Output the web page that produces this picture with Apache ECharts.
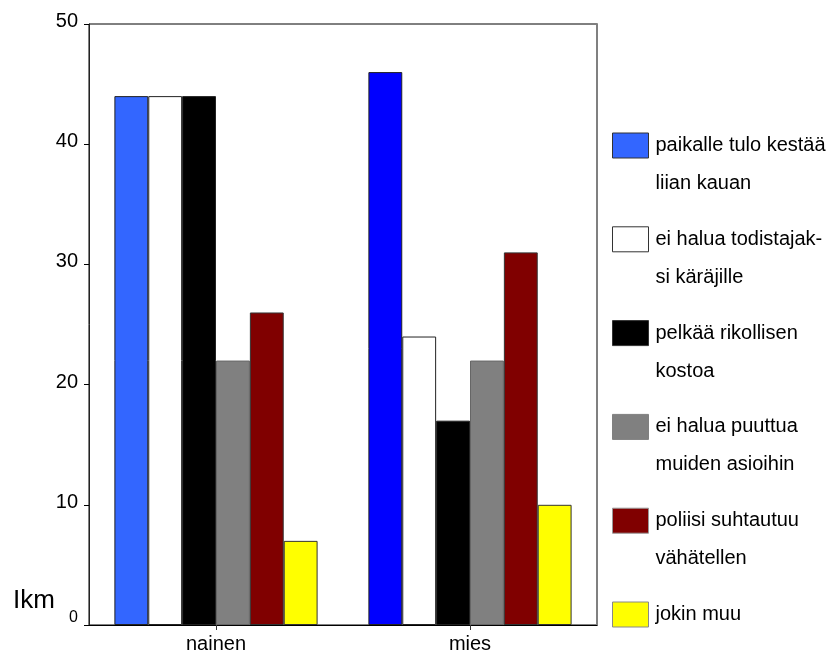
<!DOCTYPE html>
<html>
<head>
<meta charset="utf-8">
<script src="https://cdn.jsdelivr.net/npm/echarts@6/dist/echarts.min.js"></script>
<style>
html,body{margin:0;padding:0;background:#fff;}
#chart{width:829px;height:654px;}
</style>
</head>
<body>
<div id="chart"></div>
<script>
const categories = ['nainen', 'mies'];
const seriesNames = [
  'paikalle tulo kestää\nliian kauan',
  'ei halua todistajak-\nsi käräjille',
  'pelkää rikollisen\nkostoa',
  'ei halua puuttua\nmuiden asioihin',
  'poliisi suhtautuu\nvähätellen',
  'jokin muu'
];
const valuesPaikalle = [44, 46];
const valuesTodistaja = [44, 24];
const valuesKosto = [44, 17];
const valuesPuuttua = [22, 22];
const valuesPoliisi = [26, 31];
const valuesMuu = [7, 10];
const yTicks = [0, 10, 20, 30, 40, 50];
const axisTitle = 'Ikm';

const seriesValues = [valuesPaikalle, valuesTodistaja, valuesKosto, valuesPuuttua, valuesPoliisi, valuesMuu];
const colors = ['#3366FF', '#FFFFFF', '#000000', '#808080', '#800000', '#FFFF00'];
const dataColors = [['#3366FF', '#0000FF'], null, null, null, null, null];
const barBorders = ['#222', '#222', '#222', '#666', '#333', '#333'];
const legendBorders = ['#333', '#333', '#333', '#808080', '#999', '#888'];

const FONT = '"Liberation Sans", Arial, Helvetica, sans-serif';

const series = seriesValues.map((vals, i) => ({
  name: seriesNames[i],
  type: 'bar',
  barGap: '0%',
  barCategoryGap: '20%',
  itemStyle: { color: colors[i], borderColor: barBorders[i], borderWidth: 1 },
  data: vals.map((v, j) => dataColors[i] ? { value: v, itemStyle: { color: dataColors[i][j] } } : v)
}));

const legends = seriesNames.map((n, i) => {
  const twoLines = n.indexOf('\n') >= 0;
  const iconCenter = 145.5 + i * 93.8;
  const half = twoLines ? 57 : 19;
  return {
    show: true,
    left: 612,
    top: iconCenter - half,
    padding: 0,
    orient: 'vertical',
    icon: 'rect',
    itemWidth: 36,
    itemHeight: 25,
    selectedMode: false,
    data: [{ name: n, itemStyle: { borderColor: legendBorders[i], borderWidth: 1 } }],
    formatter: name => (name.indexOf('\n') >= 0 ? ' \n' + name : name),
    textStyle: {
      fontFamily: FONT,
      fontSize: 20,
      color: '#000',
      lineHeight: 38,
      padding: [0, 0, 0, 2]
    }
  };
});

const chart = echarts.init(document.getElementById('chart'), null, { renderer: 'canvas' });
chart.setOption({
  animation: false,
  backgroundColor: '#fff',
  grid: { left: 89, top: 24, right: 232, bottom: 26, show: true, borderColor: '#000', borderWidth: 1, backgroundColor: 'transparent' },
  legend: legends,
  xAxis: {
    type: 'category',
    data: categories,
    axisLine: { lineStyle: { color: '#000', width: 1 } },
    axisTick: { show: true, alignWithLabel: true, length: 5, lineStyle: { color: '#333' } },
    axisLabel: { fontFamily: FONT, fontSize: 20, color: '#000', margin: 9 },
    splitLine: { show: false }
  },
  yAxis: [{
    type: 'value',
    min: 0,
    max: 50,
    interval: 10,
    axisLine: { show: true, lineStyle: { color: '#222', width: 1 } },
    axisTick: { show: true, length: 5, lineStyle: { color: '#000' } },
    axisLabel: {
      fontFamily: FONT,
      color: '#000',
      margin: 11,
      formatter: v => (v === yTicks[0] ? '{z|' + v + '}' : '{n|' + v + '}'),
      rich: {
        n: { fontFamily: FONT, fontSize: 20, color: '#000', padding: [0, 0, 5, 0] },
        z: { fontFamily: FONT, fontSize: 16, color: '#000', padding: [0, 0, 15, 0] }
      }
    },
    splitLine: { show: false }
  }, {
    type: 'value',
    position: 'right',
    min: 0,
    max: 50,
    interval: 10,
    axisLine: { show: true, lineStyle: { color: '#808080', width: 2 } },
    axisTick: { show: false },
    axisLabel: { show: false },
    splitLine: { show: false }
  }],
  graphic: [{
    type: 'text',
    left: 13,
    top: 588,
    style: { text: axisTitle, fontFamily: FONT, fontSize: 26, fill: '#000' }
  }],
  series: series
});
</script>
</body>
</html>
